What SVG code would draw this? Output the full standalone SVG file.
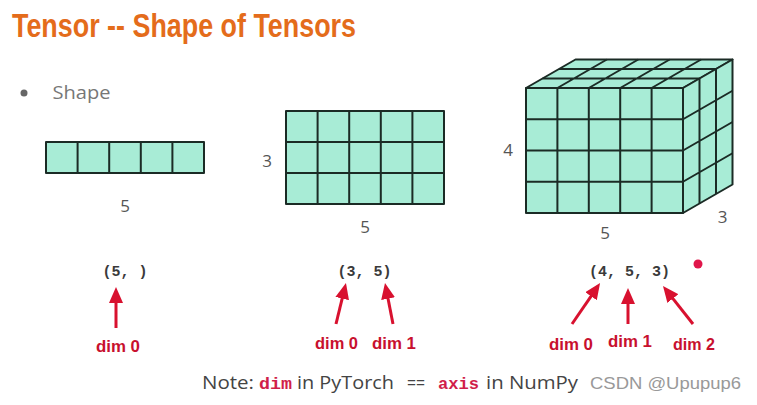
<svg xmlns="http://www.w3.org/2000/svg" width="757" height="405" viewBox="0 0 757 405">
  <style>
    .cell { fill: #a8ecd6; stroke: #1b2b25; stroke-width: 2; stroke-linejoin: round; }
    .grid { fill: none; stroke: #1b2b25; stroke-width: 2; }
    .num { font-family: "Open Sans", "Liberation Sans", sans-serif; font-size: 17px; fill: #555; text-anchor: middle; }
    .tup { font-family: "Liberation Mono", "DejaVu Sans Mono", monospace; font-size: 15px; font-weight: bold; fill: #3a3a3a; }
    .dim { font-family: "Liberation Sans", "Open Sans", sans-serif; font-size: 16px; font-weight: bold; fill: #c8102e; }
    .arr { stroke: #d8112f; stroke-width: 3; fill: none; marker-end: url(#ah); }
    .note { font-family: "Open Sans", "Liberation Sans", sans-serif; font-size: 18px; fill: #444; }
    .code { font-family: "Liberation Mono", "DejaVu Sans Mono", monospace; font-size: 16px; font-weight: bold; fill: #d01e4a; }
  </style>
  <defs>
    <marker id="ah" markerUnits="userSpaceOnUse" markerWidth="16" markerHeight="14" refX="6" refY="7" orient="auto">
      <path d="M0,0 L16,7 L0,14 Z" fill="#d8112f"/>
    </marker>
  </defs>
  <rect width="757" height="405" fill="#ffffff"/>

  <g id="title">
    <text x="12" y="37" font-family="'Liberation Sans', Arial, sans-serif" font-size="33" font-weight="bold" fill="#e46c1b" textLength="344" lengthAdjust="spacingAndGlyphs">Tensor -- Shape of Tensors</text>
  </g>

  <g id="bullet">
    <circle cx="24" cy="93" r="3.5" fill="#666"/>
    <text x="52.5" y="99" font-family="'Open Sans', 'Liberation Sans', sans-serif" font-size="19" fill="#777" textLength="58" lengthAdjust="spacingAndGlyphs">Shape</text>
  </g>

  <g id="tensor1d">
    <rect class="cell" x="46" y="142" width="158" height="31"/>
    <path class="grid" d="M77.6,142V173M109.2,142V173M140.8,142V173M172.4,142V173"/>
    <text class="num" x="125" y="212">5</text>
  </g>

  <g id="tensor2d">
    <rect class="cell" x="286" y="111" width="158" height="93"/>
    <path class="grid" d="M317.6,111V204M349.2,111V204M380.8,111V204M412.4,111V204M286,142H444M286,173H444"/>
    <text class="num" x="267" y="166.5">3</text>
    <text class="num" x="365" y="232.5">5</text>
  </g>

  <g id="tensor3d">
    <polygon class="cell" points="526,88 683,88 732.5,59.5 575.5,59.5"/>
    <path class="grid" d="M542.5,78.5H699.5M559,69H716M557.4,88L606.9,59.5M588.8,88L638.3,59.5M620.2,88L669.7,59.5M651.6,88L701.1,59.5"/>
    <polygon class="cell" points="683,88 732.5,59.5 732.5,184.5 683,213"/>
    <path class="grid" d="M699.5,78.5V203.5M716,69V194M683,119.25L732.5,90.75M683,150.5L732.5,122M683,181.75L732.5,153.25"/>
    <rect class="cell" x="526" y="88" width="157" height="125"/>
    <path class="grid" d="M557.4,88V213M588.8,88V213M620.2,88V213M651.6,88V213M526,119.25H683M526,150.5H683M526,181.75H683"/>
    <text class="num" x="508" y="156">4</text>
    <text class="num" x="605" y="239">5</text>
    <text class="num" x="722.5" y="222.5">3</text>
  </g>

  <g id="shapes">
    <text class="tup" x="102.5" y="275.5">(5, )</text>
    <text class="tup" x="337.5" y="275.5">(3, 5)</text>
    <text class="tup" x="589" y="275.5">(4, 5, 3)</text>
    <circle cx="698" cy="264" r="4.5" fill="#e0164a"/>
  </g>

  <g id="connectors">
    <line class="arr" x1="116" y1="328" x2="116" y2="297"/>
    <line class="arr" x1="336" y1="324" x2="343.6" y2="292.7"/>
    <line class="arr" x1="393" y1="324" x2="386.9" y2="292.8"/>
    <line class="arr" x1="572" y1="324" x2="594.4" y2="291.3"/>
    <line class="arr" x1="628" y1="324" x2="628" y2="298"/>
    <line class="arr" x1="693" y1="324" x2="669.2" y2="293.9"/>
  </g>

  <g id="labels">
    <text class="dim" x="96" y="352" textLength="44" lengthAdjust="spacingAndGlyphs">dim 0</text>
    <text class="dim" x="315" y="349" textLength="43" lengthAdjust="spacingAndGlyphs">dim 0</text>
    <text class="dim" x="372" y="349" textLength="44" lengthAdjust="spacingAndGlyphs">dim 1</text>
    <text class="dim" x="549" y="349.5" textLength="44" lengthAdjust="spacingAndGlyphs">dim 0</text>
    <text class="dim" x="608" y="347" textLength="44" lengthAdjust="spacingAndGlyphs">dim 1</text>
    <text class="dim" x="673" y="349.5" textLength="42" lengthAdjust="spacingAndGlyphs">dim 2</text>
  </g>

  <g id="note">
    <text class="note" x="202" y="389" textLength="52" lengthAdjust="spacingAndGlyphs">Note:</text>
    <text class="code" x="259" y="389" textLength="33" lengthAdjust="spacingAndGlyphs">dim</text>
    <text class="note" x="297" y="389" textLength="97" lengthAdjust="spacingAndGlyphs">in PyTorch</text>
    <text x="407" y="388" font-family="'Liberation Mono', monospace" font-size="14" fill="#444" textLength="18" lengthAdjust="spacingAndGlyphs">==</text>
    <text class="code" x="438" y="389" textLength="41" lengthAdjust="spacingAndGlyphs">axis</text>
    <text class="note" x="486" y="389" textLength="92" lengthAdjust="spacingAndGlyphs">in NumPy</text>
    <text x="590" y="389" font-family="'Liberation Sans', Arial, sans-serif" font-size="17" fill="#999" textLength="151" lengthAdjust="spacingAndGlyphs">CSDN @Upupup6</text>
  </g>
</svg>
